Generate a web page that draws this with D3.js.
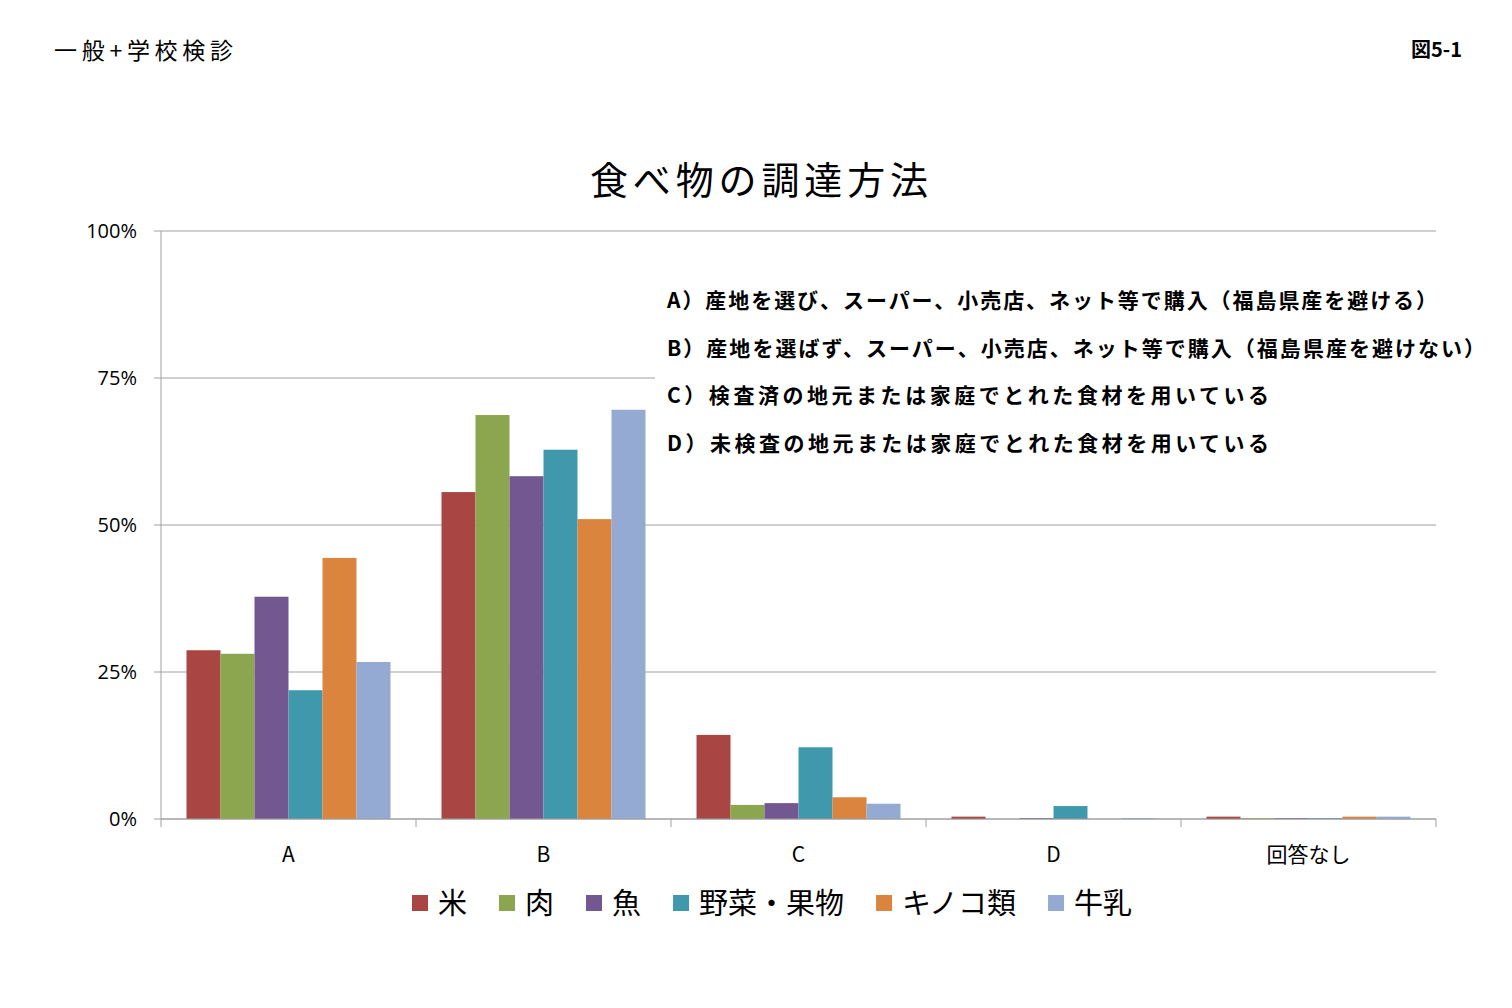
<!DOCTYPE html>
<html><head><meta charset="utf-8">
<script src="https://cdn.jsdelivr.net/npm/d3@7.9.0/dist/d3.min.js"></script>
<style>body{margin:0;background:#fff;font-family:"Noto Sans CJK JP",sans-serif;}</style>
</head><body><svg width="1512" height="1008"></svg>
<script>
const categories = ['A', 'B', 'C', 'D', '回答なし'];
const seriesNames = ['米', '肉', '魚', '野菜・果物', 'キノコ類', '牛乳'];
const colors = ['#a94644', '#8ba64f', '#735791', '#4098ad', '#db843d', '#94aad3'];
const rice = [28.7, 55.6, 14.3, 0.4, 0.4];
const meat = [28.1, 68.7, 2.4, 0, 0.15];
const fish = [37.8, 58.3, 2.7, 0.15, 0.15];
const veg = [21.9, 62.8, 12.2, 2.2, 0.15];
const mushroom = [44.4, 51.0, 3.7, 0, 0.4];
const milk = [26.7, 69.6, 2.6, 0.15, 0.4];
const yTicks = [0, 25, 50, 75, 100];
const notes = [
  'A）産地を選び、スーパー、小売店、ネット等で購入（福島県産を避ける）',
  'B）産地を選ばず、スーパー、小売店、ネット等で購入（福島県産を避けない）',
  'C）検査済の地元または家庭でとれた食材を用いている',
  'D）未検査の地元または家庭でとれた食材を用いている'
];
const noteWidths = [770, 818, 602, 602];
const series = [rice, meat, fish, veg, mushroom, milk];

const svg = d3.select('svg');
const L = 161, R = 1436, T = 231, B = 819;
const x = d3.scaleBand().domain(categories).range([L, R]).paddingInner(0.2).paddingOuter(0.1);
const xs = d3.scaleBand().domain(d3.range(6)).range([0, x.bandwidth()]);
const y = d3.scaleLinear().domain([0, 100]).range([B, T]);

svg.append('g').selectAll('line').data(yTicks).join('line')
  .attr('x1', L).attr('x2', R).attr('y1', d => y(d)).attr('y2', d => y(d))
  .attr('stroke', '#a0a0a0').attr('stroke-width', 1);
svg.append('line').attr('x1', L).attr('x2', L).attr('y1', T).attr('y2', B).attr('stroke', '#a0a0a0');
svg.append('g').selectAll('line').data(d3.range(6)).join('line')
  .attr('x1', i => L + i * (R - L) / 5).attr('x2', i => L + i * (R - L) / 5)
  .attr('y1', B).attr('y2', B + 8).attr('stroke', '#a0a0a0');
svg.append('g').selectAll('line').data(yTicks).join('line')
  .attr('x1', L - 7).attr('x2', L).attr('y1', d => y(d)).attr('y2', d => y(d)).attr('stroke', '#a0a0a0');
svg.append('g').selectAll('text').data(yTicks).join('text')
  .attr('x', L - 24).attr('y', d => y(d) + 7).attr('text-anchor', 'end')
  .attr('font-size', 20).attr('font-family', 'Open Sans, sans-serif').text(d => d + '%');
svg.append('g').selectAll('text').data(categories).join('text')
  .attr('x', d => x(d) + x.bandwidth() / 2).attr('y', 862).attr('text-anchor', 'middle')
  .attr('font-size', 21).text(d => d);

series.forEach((s, i) => {
  svg.append('g').selectAll('rect').data(s).join('rect')
    .attr('x', (d, j) => x(categories[j]) + xs(i)).attr('width', xs.bandwidth())
    .attr('y', d => y(d)).attr('height', d => B - y(d)).attr('fill', colors[i]);
});
svg.append('line').attr('x1', L).attr('x2', R).attr('y1', B).attr('y2', B).attr('stroke', '#a0a0a0');

svg.append('text').attr('x', 590).attr('y', 194).attr('textLength', 338).attr('lengthAdjust', 'spacing')
  .attr('font-size', 38).text('食べ物の調達方法');
svg.append('text').attr('x', 54).attr('y', 59).attr('textLength', 179).attr('lengthAdjust', 'spacing')
  .attr('font-size', 23).text('一般+学校検診');
svg.append('text').attr('x', 1462).attr('y', 57).attr('text-anchor', 'end')
  .attr('font-size', 20).attr('font-weight', 'bold').text('図5-1');

svg.append('rect').attr('x', 655).attr('y', 275).attr('width', 840).attr('height', 190).attr('fill', '#fff');
svg.append('g').selectAll('text').data(notes).join('text')
  .attr('x', 667).attr('y', (d, i) => 308 + i * 47.5).attr('font-size', 21).attr('font-weight', 'bold')
  .attr('textLength', (d, i) => noteWidths[i]).attr('lengthAdjust', 'spacing')
  .text(d => d);

let lx = 412;
seriesNames.forEach((n, i) => {
  const g = svg.append('g');
  g.append('rect').attr('x', lx).attr('y', 895).attr('width', 16).attr('height', 16).attr('fill', colors[i]);
  const t = g.append('text').attr('x', lx + 26).attr('y', 914).attr('font-size', 29).text(n);
  lx += 26 + t.node().getComputedTextLength() + 32;
});
</script></body></html>
